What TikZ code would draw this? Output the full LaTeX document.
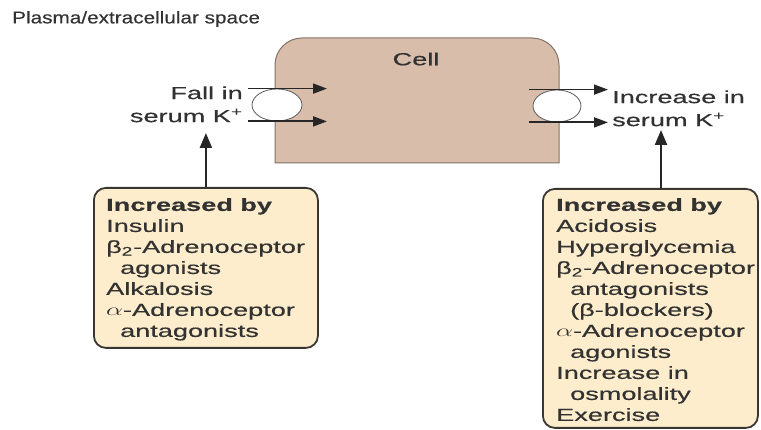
\documentclass[tikz,border=0pt]{standalone}
\usepackage{fontspec}
\usepackage{graphicx}
\setmainfont{Liberation Sans}[FakeBold=0.35]
\usetikzlibrary{arrows.meta,shapes.geometric}

\definecolor{cellfill}{RGB}{217,189,171}
\definecolor{celledge}{RGB}{130,114,104}
\definecolor{boxfill}{RGB}{253,237,204}
\definecolor{boxedge}{RGB}{58,54,50}
\definecolor{ink}{RGB}{50,50,50}

% horizontally widened lettering
\newcommand{\wide}[1]{\scalebox{1.55}[1]{#1}}
\newcommand{\ind}{\hspace*{9pt}}

\tikzset{
  lbl/.style={inner sep=0pt, text=ink, font=\fontsize{17.5}{23}\selectfont},
  boxtext/.style={inner sep=0pt, text=ink, font=\fontsize{17.5}{21}\selectfont, anchor=north west},
  boxframe/.style={draw=boxedge, line width=1.8pt, fill=boxfill, rounded corners=12pt, anchor=north west, inner sep=0pt},
  pump/.style={ellipse, draw=ink!80, line width=0.8pt, fill=white, inner sep=0pt},
  flow/.style={draw=black!85, line width=1.8pt, -{Triangle[length=14pt,width=10pt]}},
  rise/.style={draw=black!85, line width=2.2pt, -{Triangle[length=15pt,width=12pt]}}
}

\begin{document}
\begin{tikzpicture}[x=1pt,y=1pt]
\useasboundingbox (0,0) rectangle (761,-430);

% extracellular label
\node[inner sep=0pt, text=ink, font=\fontsize{17}{19}\selectfont, anchor=west] (plasma) at (12,-19)
  {\scalebox{1.22}[1]{Plasma/extracellular space}};

% the cell body, rounded at the top only
\draw[fill=cellfill, draw=celledge, line width=1pt]
  (275,-163) -- (275,-65) arc[start angle=180,end angle=90,radius=27]
  -- (532,-38) arc[start angle=90,end angle=0,radius=27] -- (559,-163) -- cycle;
\node[lbl] (cell) at (416,-59) {\wide{Cell}};

% transporters in the membrane
\node[pump, minimum width=50pt, minimum height=32pt] (ltr) at (277,-105) {};
\node[pump, minimum width=48pt, minimum height=32pt] (rtr) at (557,-106) {};

\draw[flow] ([xshift=-29pt]ltr.north) -- ([xshift=50pt]ltr.north);
\draw[flow] ([xshift=-29pt]ltr.south) -- ([xshift=50pt]ltr.south);
\draw[flow] ([xshift=-28pt]rtr.north) -- ([xshift=51pt]rtr.north);
\draw[flow] ([xshift=-28pt]rtr.south) -- ([xshift=51pt]rtr.south);

% serum potassium labels
\node[lbl, anchor=east] (fall) at (243,-106)
  {\wide{\begin{tabular}{@{}r@{}}Fall in\\serum K\textsuperscript{+}\end{tabular}}};
\node[lbl, anchor=west] (incr) at (612,-110)
  {\wide{\begin{tabular}{@{}l@{}}Increase in\\serum K\textsuperscript{+}\end{tabular}}};

% factor boxes
\node[boxframe, minimum width=224pt, minimum height=160pt] (lbox) at (93,-187) {};
\node[boxframe, minimum width=215pt, minimum height=239pt] (rbox) at (542,-188) {};

\node[boxtext] (ltext) at (106,-196) {\wide{\begin{tabular}{@{}l@{}}
  \textbf{Increased by}\\
  Insulin\\
  β\textsubscript{2}-Adrenoceptor\\
  \ind agonists\\
  Alkalosis\\
  $\alpha$-Adrenoceptor\\
  \ind antagonists
\end{tabular}}};

\node[boxtext] (rtext) at (556,-196) {\wide{\begin{tabular}{@{}l@{}}
  \textbf{Increased by}\\
  Acidosis\\
  Hyperglycemia\\
  β\textsubscript{2}-Adrenoceptor\\
  \ind antagonists\\
  \ind (β-blockers)\\
  $\alpha$-Adrenoceptor\\
  \ind agonists\\
  Increase in\\
  \ind osmolality\\
  Exercise
\end{tabular}}};

% influences
\draw[rise] (lbox.north) -- (lbox.north |- 0,-133);
\draw[rise] (rbox.north -| 661,0) -- (661,-130);
\end{tikzpicture}
\end{document}
